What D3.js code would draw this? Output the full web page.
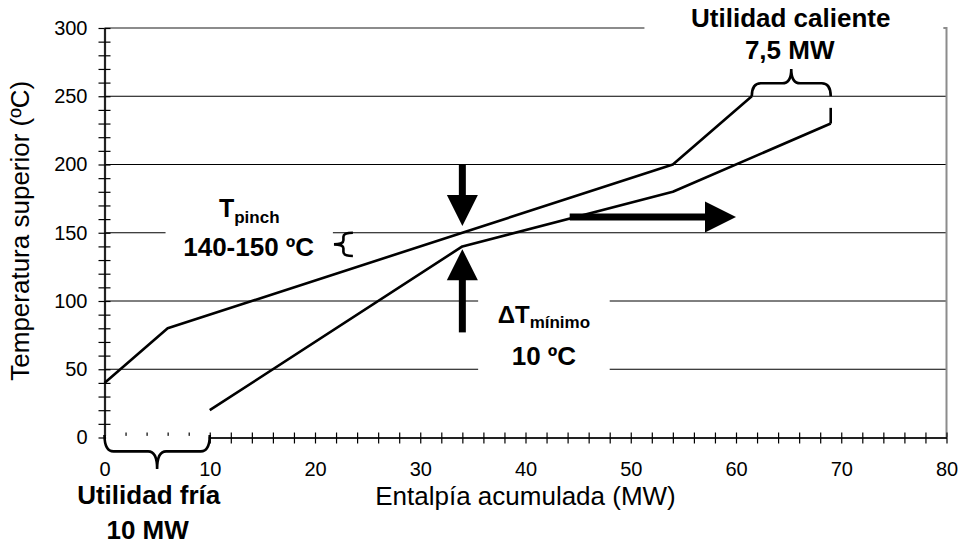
<!DOCTYPE html>
<html lang="es">
<head>
<meta charset="UTF-8">
<title>Curvas compuestas</title>
<script src="https://d3js.org/d3.v7.min.js"></script>
<style>
  body { margin:0; background:#fff; }
  svg { display:block; font-family: Arial, "Liberation Sans", sans-serif; }
  .grid line { stroke:#000; stroke-width:1; }
  .curve { fill:none; stroke:#000; stroke-width:2.6; stroke-linejoin:round; }
  .brace { fill:none; stroke:#000; stroke-width:2.6; }
  .tick text { font-size:20px; fill:#000; }
  .tick line { stroke:#000; stroke-width:1.2; }
  .ann { font-weight:bold; fill:#000; text-anchor:middle; }
</style>
</head>
<body>
<svg width="970" height="544"></svg>
<script>
// curva compuesta caliente (MW, ºC)
const hotH = [0, 6, 34, 54, 61.5];
const hotT = [40, 80, 150, 200, 250];
// curva compuesta fría
const coldH = [10, 34, 54, 69];
const coldT = [20, 140, 180, 230];

const gridT = [50, 100, 150, 200, 250];
const xMajor = [0, 10, 20, 30, 40, 50, 60, 70, 80];
const yMajor = [0, 50, 100, 150, 200, 250, 300];

// anotaciones en unidades de datos
const arrows = [
  {x0: 34, t0: 200, x1: 34, t1: 155},   // hacia abajo
  {x0: 34, t0: 77, x1: 34, t1: 138},    // hacia arriba
  {x0: 44.2, t0: 161.5, x1: 60, t1: 161.5}
];
const boxes = [
  {h0: 5.8, h1: 21.7, t0: 175, t1: 128},
  {h0: 35.5, h1: 48.0, t0: 108, t1: 40},
  {h0: 51.3, h1: 79.7, t0: 322, t1: 272},
  {h0: 0.15, h1: 9.9, t0: 1.2, t1: -12}
];

const x = d3.scaleLinear().domain([0, 80]).range([104.5, 946.5]);
const y = d3.scaleLinear().domain([0, 300]).range([437.5, 28]);

const svg = d3.select('svg');

// rejilla
svg.append('g').attr('class', 'grid')
  .selectAll('line').data(gridT).join('line')
  .attr('x1', x(0)).attr('x2', x(80))
  .attr('y1', d => y(d)).attr('y2', d => y(d));

// bordes del área de trazado (gris)
svg.append('line').attr('x1', x(0)).attr('x2', x(80)).attr('y1', y(300)).attr('y2', y(300))
  .attr('stroke', '#8c8c8c').attr('stroke-width', 2);
svg.append('line').attr('x1', x(80)).attr('x2', x(80)).attr('y1', y(300) - 1).attr('y2', y(0))
  .attr('stroke', '#8c8c8c').attr('stroke-width', 2);

// ejes (marcas que cruzan la línea)
const xb = svg.append('g').attr('transform', `translate(0,${y(0)})`)
  .call(d3.axisBottom(x).tickValues(d3.range(0, 81, 2)).tickSize(6).tickSizeOuter(0)
    .tickFormat(d => xMajor.includes(d) ? d : ''));
xb.selectAll('.tick text').attr('y', 24).attr('dy', '0.71em');
svg.append('g').attr('transform', `translate(0,${y(0)})`)
  .call(d3.axisTop(x).tickValues(d3.range(0, 81, 2)).tickSize(5).tickSizeOuter(0).tickFormat(''))
  .select('.domain').remove();
xb.select('.domain').attr('stroke', '#222').attr('stroke-width', 2);

const yl = svg.append('g').attr('transform', `translate(${x(0)},0)`)
  .call(d3.axisLeft(y).tickValues(d3.range(0, 301, 10)).tickSize(6).tickSizeOuter(0)
    .tickFormat(d => yMajor.includes(d) ? d : ''));
yl.selectAll('.tick text').attr('x', -17);
svg.append('g').attr('transform', `translate(${x(0)},0)`)
  .call(d3.axisRight(y).tickValues(d3.range(0, 301, 10)).tickSize(6).tickSizeOuter(0).tickFormat(''))
  .select('.domain').remove();
yl.select('.domain').attr('stroke', '#222').attr('stroke-width', 2.2);

// títulos de los ejes
svg.append('text').attr('x', (x(0) + x(80)) / 2).attr('y', 505)
  .attr('text-anchor', 'middle').attr('font-size', 26).text('Entalpía acumulada (MW)');
svg.append('text').attr('transform', `translate(29,${(y(0) + y(300)) / 2 - 2}) rotate(-90)`)
  .attr('text-anchor', 'middle').attr('font-size', 26).text('Temperatura superior (ºC)');

// cajas blancas de las etiquetas
svg.append('g').selectAll('rect').data(boxes).join('rect')
  .attr('x', d => x(d.h0)).attr('width', d => x(d.h1) - x(d.h0))
  .attr('y', d => y(d.t0)).attr('height', d => y(d.t1) - y(d.t0))
  .attr('fill', '#fff');

// curvas compuestas
const line = d3.line().x(d => x(d[0])).y(d => y(d[1]));
svg.append('path').attr('class', 'curve').attr('d', line(d3.zip(hotH, hotT)));
svg.append('path').attr('class', 'curve').attr('d', line(d3.zip(coldH, coldT)));

// llaves
function hBrace(x1, x2, yb, ym, yt) {
  const r = 9, xc = (x1 + x2) / 2;
  return `M${x1},${yb} Q${x1},${ym} ${x1 + r},${ym} L${xc - r},${ym} Q${xc},${ym} ${xc},${yt}` +
         ` Q${xc},${ym} ${xc + r},${ym} L${x2 - r},${ym} Q${x2},${ym} ${x2},${yb}`;
}
function vBrace(y1, y2, xb, xm, xt) {
  const r = 4, yc = (y1 + y2) / 2;
  return `M${xb},${y1} Q${xm},${y1} ${xm},${y1 + r} L${xm},${yc - r} Q${xm},${yc} ${xt},${yc}` +
         ` Q${xm},${yc} ${xm},${yc + r} L${xm},${y2 - r} Q${xm},${y2} ${xb},${y2}`;
}
svg.append('path').attr('class', 'brace')
  .attr('d', hBrace(x(61.5), x(69), y(250), y(259.5), y(270)));
svg.append('line').attr('x1', x(69)).attr('x2', x(69)).attr('y1', y(230)).attr('y2', y(241.5))
  .attr('stroke', '#000').attr('stroke-width', 2.6);
svg.append('path').attr('class', 'brace')
  .attr('d', hBrace(x(0), x(10), y(1.8), y(-10.2), y(-23)));
svg.append('path').attr('class', 'brace')
  .attr('d', vBrace(y(150), y(133), x(23.6), x(22.7), x(21.8)));

// flechas
const headL = 31, headW = 15.5;
arrows.forEach(a => {
  const X0 = x(a.x0), Y0 = y(a.t0), X1 = x(a.x1), Y1 = y(a.t1);
  const L = Math.hypot(X1 - X0, Y1 - Y0), ux = (X1 - X0) / L, uy = (Y1 - Y0) / L;
  const bx = X1 - ux * headL, by = Y1 - uy * headL;
  svg.append('line').attr('x1', X0).attr('y1', Y0).attr('x2', bx + ux).attr('y2', by + uy)
    .attr('stroke', '#000').attr('stroke-width', 7);
  svg.append('path').attr('fill', '#000')
    .attr('d', `M${X1},${Y1} L${bx - uy * headW},${by + ux * headW} L${bx + uy * headW},${by - ux * headW} Z`);
});

// textos de las anotaciones
svg.append('text').attr('class', 'ann').attr('font-size', 26)
  .attr('x', x(65.2)).attr('y', y(301)).text('Utilidad caliente');
svg.append('text').attr('class', 'ann').attr('font-size', 26)
  .attr('x', x(65.1)).attr('y', y(277)).text('7,5 MW');
svg.append('text').attr('class', 'ann').attr('font-size', 26)
  .attr('x', x(4.2)).attr('y', y(-48.5)).text('Utilidad fría');
svg.append('text').attr('class', 'ann').attr('font-size', 26)
  .attr('x', x(4.1)).attr('y', y(-74)).text('10 MW');

const tp = svg.append('text').attr('class', 'ann')
  .attr('x', x(13.75)).attr('y', y(161.8));
tp.append('tspan').attr('font-size', 25).text('T');
tp.append('tspan').attr('font-size', 17).attr('dy', 6).text('pinch');
svg.append('text').attr('class', 'ann').attr('font-size', 26)
  .attr('x', x(13.7)).attr('y', y(133)).text('140-150 ºC');

const dt = svg.append('text').attr('class', 'ann')
  .attr('x', x(41.75)).attr('y', y(83.7));
dt.append('tspan').attr('font-size', 24).text('ΔT');
dt.append('tspan').attr('font-size', 17).attr('dy', 5).text('mínimo');
svg.append('text').attr('class', 'ann').attr('font-size', 26)
  .attr('x', x(41.75)).attr('y', y(53.2)).text('10 ºC');
</script>
</body>
</html>
